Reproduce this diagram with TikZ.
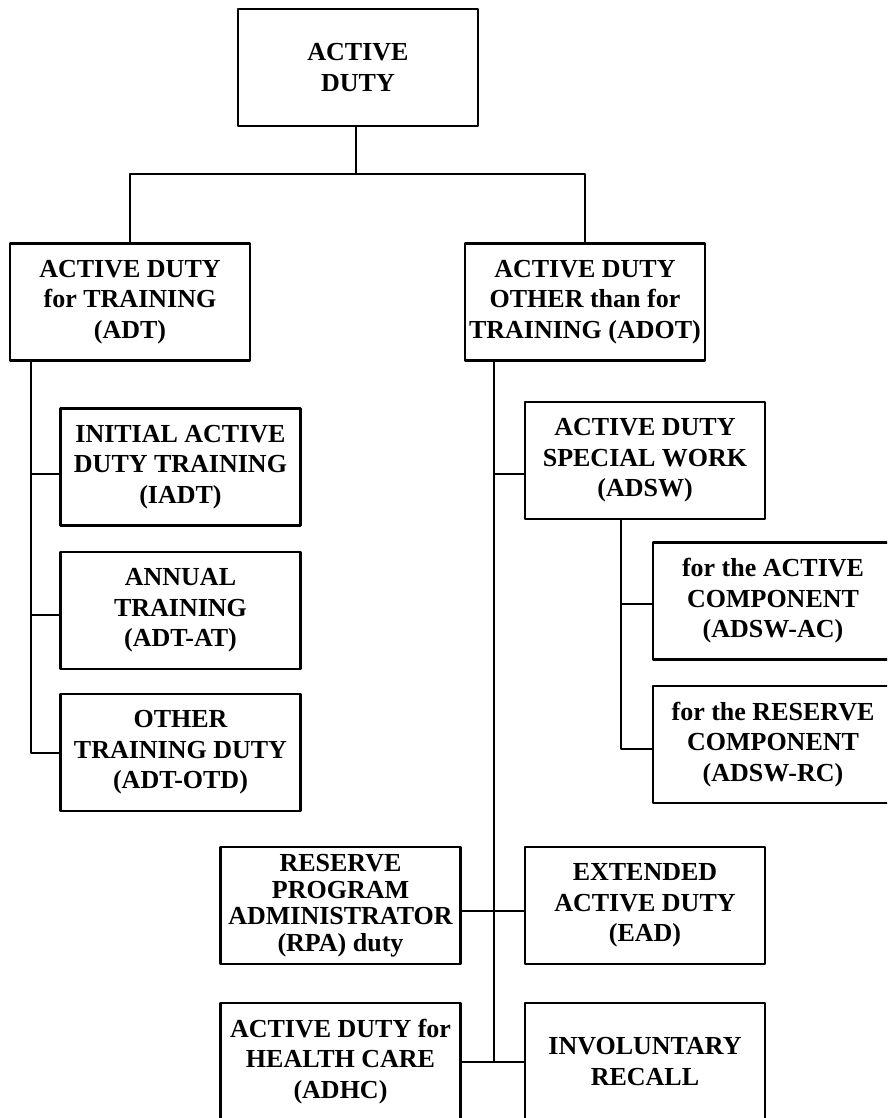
\documentclass[tikz,border=0pt]{standalone}
\usepackage{fontspec}
\setmainfont{Liberation Serif}

\begin{document}
\begin{tikzpicture}[x=1pt,y=-1pt,join=round,
        duty/.style={draw,line width=2.4pt,inner sep=0pt,minimum width=240pt,minimum height=117pt,
                align=center,font=\fontsize{26}{30.5}\selectfont\bfseries},
        link/.style={line width=2pt}]
        \useasboundingbox (0,0) rectangle (887,1118);
        \clip (0,0) rectangle (887,1118);
        % boxes
        \node[duty] (top) at (358,67.5) {ACTIVE\\DUTY};
        \node[duty] (adt) at (130,302) {ACTIVE DUTY\\for TRAINING\\(ADT)};
        \node[duty] (adot) at (585,302) {ACTIVE DUTY\\OTHER than for\\TRAINING (ADOT)};
        \node[duty] (iadt) at (180.5,467) {INITIAL ACTIVE\\DUTY TRAINING\\(IADT)};
        \node[duty] (at) at (180.5,610.5) {ANNUAL\\TRAINING\\(ADT-AT)};
        \node[duty] (otd) at (180.5,752.5) {OTHER\\TRAINING DUTY\\(ADT-OTD)};
        \node[duty] (adsw) at (645,460.5) {ACTIVE DUTY\\SPECIAL WORK\\(ADSW)};
        \node[duty] (adswac) at (773,601) {for the ACTIVE\\COMPONENT\\(ADSW-AC)};
        \node[duty] (adswrc) at (773,744.5) {for the RESERVE\\COMPONENT\\(ADSW-RC)};
        \node[duty,font=\fontsize{26}{26.5}\selectfont\bfseries] (rpa) at (340.5,905.5)
                {RESERVE\\PROGRAM\\ADMINISTRATOR\\(RPA) duty};
        \node[duty] (ead) at (645,905.5) {EXTENDED\\ACTIVE DUTY\\(EAD)};
        \node[duty] (adhc) at (340.5,1061.5) {ACTIVE DUTY for\\HEALTH CARE\\(ADHC)};
        \node[duty] (recall) at (645,1061.5) {INVOLUNTARY\\RECALL};
        % connectors
        \coordinate (bus) at (356,174);
        \draw[link] (top.south -| bus) -- (bus);
        \draw[link] (adt.north) |- (bus) -| (adot.north);
        \coordinate (adtspine) at ([xshift=22pt]adt.south west);
        \draw[link] (adtspine) |- ([yshift=-7pt]iadt.west);
        \draw[link] (adtspine) |- ([yshift=-4pt]at.west);
        \draw[link] (adtspine) |- (otd.west);
        \coordinate (adotspine) at ([xshift=30pt]adot.south west);
        \draw[link] (adotspine) |- ([yshift=-13pt]adsw.west);
        \draw[link] (adotspine) |- ([yshift=-5pt]rpa.east);
        \draw[link] (adotspine) |- ([yshift=-5pt]ead.west);
        \draw[link] (adotspine) |- (adhc.east);
        \draw[link] (adotspine) |- (recall.west);
        \coordinate (adswspine) at ([xshift=97pt]adsw.south west);
        \draw[link] (adswspine) |- ([yshift=-3pt]adswac.west);
        \draw[link] (adswspine) |- ([yshift=-4pt]adswrc.west);
\end{tikzpicture}
\end{document}
